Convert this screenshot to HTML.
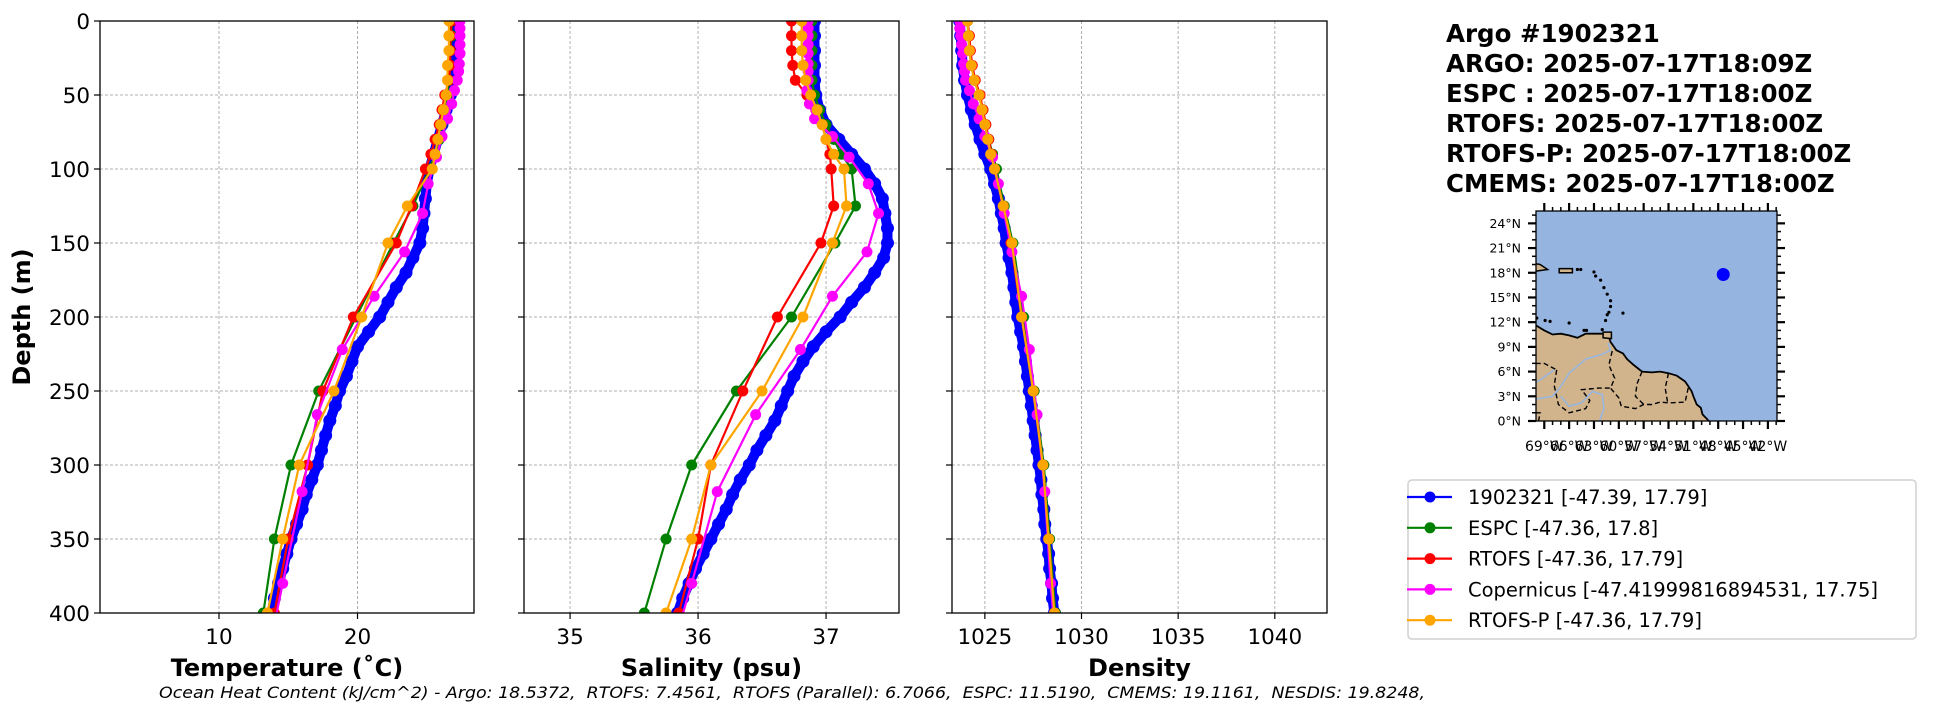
<!DOCTYPE html>
<html><head><meta charset="utf-8">
<style>
html,body{margin:0;padding:0;background:#fff;}
svg{display:block;font-family:"DejaVu Sans","Liberation Sans",sans-serif;}
</style></head>
<body>
<svg id="fig" width="1949" height="712" viewBox="0 0 1949 712" xmlns="http://www.w3.org/2000/svg">
<defs>
<clipPath id="clipT"><rect x="100" y="21" width="374" height="592"/></clipPath>
<clipPath id="clipS"><rect x="524" y="21" width="375" height="592"/></clipPath>
<clipPath id="clipD"><rect x="952" y="21" width="375" height="592"/></clipPath>
<clipPath id="clipM"><rect x="1536" y="211" width="241" height="210"/></clipPath>
</defs>
<g id="panels"></g>
<g id="titleblock" font-weight="bold" font-size="24.5" fill="#000">
<text x="1446" y="42">Argo #1902321</text>
<text x="1446" y="72">ARGO: 2025-07-17T18:09Z</text>
<text x="1446" y="102">ESPC : 2025-07-17T18:00Z</text>
<text x="1446" y="132">RTOFS: 2025-07-17T18:00Z</text>
<text x="1446" y="162">RTOFS-P: 2025-07-17T18:00Z</text>
<text x="1446" y="192">CMEMS: 2025-07-17T18:00Z</text>
</g>
<g id="map"></g>
<g id="legend"></g>
<text x="159" y="698" font-size="16" font-style="italic" textLength="1266" lengthAdjust="spacingAndGlyphs" style="white-space:pre" xml:space="preserve">Ocean Heat Content (kJ/cm^2) - Argo: 18.5372,  RTOFS: 7.4561,  RTOFS (Parallel): 6.7066,  ESPC: 11.5190,  CMEMS: 19.1161,  NESDIS: 19.8248,</text>
</svg>
<script>
// ---- data ----
const argoDepth = [0,10,20,30,40,50,60,70,80,90,100,110,120,130,140,150,160,170,180,190,200,210,220,230,240,250,260,270,280,290,300,310,320,330,340,350,360,370,380,390,400];
const argoTemp = [27.1,27.1,27.1,27.0,26.9,26.7,26.4,26.1,25.8,25.5,25.2,25.0,24.9,24.8,24.7,24.5,24.0,23.5,22.8,22.2,21.6,20.8,20.0,19.6,19.2,18.7,18.4,18.0,17.7,17.4,17.1,16.7,16.3,16.0,15.6,15.2,14.9,14.6,14.3,14.0,13.8];
const argoSal = [36.91,36.91,36.91,36.91,36.91,36.92,36.95,37.0,37.1,37.2,37.3,37.38,37.44,37.46,37.48,37.48,37.45,37.38,37.3,37.2,37.11,37.0,36.9,36.82,36.75,36.7,36.65,36.6,36.53,36.46,36.4,36.33,36.27,36.22,36.16,36.1,36.04,35.98,35.93,35.88,35.84];
const argoDens = [1023.7,1023.75,1023.8,1023.85,1023.95,1024.1,1024.3,1024.5,1024.75,1025.0,1025.3,1025.5,1025.7,1025.85,1026.0,1026.1,1026.25,1026.4,1026.5,1026.6,1026.7,1026.85,1027.0,1027.1,1027.2,1027.3,1027.4,1027.5,1027.6,1027.7,1027.8,1027.9,1027.95,1028.05,1028.1,1028.2,1028.3,1028.35,1028.45,1028.5,1028.6];

const modelDepth = [0,10,20,30,40,50,60,70,80,90,100,125,150,200,250,300,350,400];
const espcTemp = [26.8,26.8,26.7,26.7,26.6,26.5,26.3,26.1,25.9,25.6,25.2,24.0,22.6,19.9,17.2,15.2,14.0,13.2];
const espcSal = [36.89,36.89,36.89,36.89,36.89,36.91,36.95,37.0,37.06,37.12,37.2,37.23,37.07,36.73,36.3,35.95,35.75,35.58];
const espcDens = [1024.1,1024.15,1024.2,1024.3,1024.45,1024.7,1024.9,1025.05,1025.2,1025.4,1025.6,1026.0,1026.45,1027.0,1027.55,1028.05,1028.35,1028.65];
const rtofsTemp = [26.8,26.7,26.7,26.7,26.6,26.3,26.1,25.9,25.6,25.3,24.9,23.9,22.8,19.7,17.5,16.4,15.0,14.0];
const rtofsSal = [36.73,36.73,36.73,36.74,36.76,36.85,36.92,36.97,37.0,37.03,37.04,37.06,36.96,36.62,36.35,36.1,36.0,35.85];
const rtofsDens = [1024.1,1024.2,1024.25,1024.35,1024.5,1024.75,1024.9,1025.05,1025.2,1025.35,1025.5,1025.95,1026.35,1026.9,1027.5,1028.0,1028.3,1028.6];
const rtofspTemp = [26.6,26.6,26.6,26.5,26.5,26.4,26.2,26.0,25.8,25.6,25.4,23.6,22.2,20.3,18.3,15.8,14.6,13.5];
const rtofspSal = [36.81,36.81,36.81,36.82,36.84,36.88,36.93,36.97,37.0,37.06,37.14,37.16,37.05,36.82,36.5,36.1,35.95,35.75];
const rtofspDens = [1024.1,1024.15,1024.2,1024.3,1024.45,1024.7,1024.85,1025.0,1025.15,1025.3,1025.5,1025.95,1026.4,1026.9,1027.5,1028.0,1028.3,1028.6];

const copDepth = [0,5,10,16,22,29,34,40,47,56,66,78,92,110,130,156,186,222,266,318,380,454];
const copTemp = [27.4,27.4,27.4,27.4,27.4,27.35,27.3,27.2,27.0,26.8,26.5,26.1,25.7,25.1,24.7,23.4,21.2,18.9,17.1,16.0,14.6,13.0];
const copSal = [36.86,36.86,36.86,36.86,36.86,36.86,36.86,36.86,36.85,36.87,36.91,37.05,37.18,37.33,37.41,37.32,37.05,36.8,36.45,36.15,35.95,35.7];
const copDens = [1023.7,1023.7,1023.75,1023.8,1023.85,1023.9,1023.95,1024.0,1024.2,1024.4,1024.7,1025.0,1025.4,1025.7,1026.0,1026.4,1026.9,1027.3,1027.7,1028.1,1028.4,1028.9];

const depthTicks = [0,50,100,150,200,250,300,350,400];
const tempTicks = [10,20];
const salTicks = [35,36,37];
const densTicks = [1025,1030,1035,1040];
const latTicks = [0,3,6,9,12,15,18,21,24];
const lonTicks = [-69,-66,-63,-60,-57,-54,-51,-48,-45,-42];
const floatLon = -47.39, floatLat = 17.79;

const legendLabels = ["1902321 [-47.39, 17.79]","ESPC [-47.36, 17.8]","RTOFS [-47.36, 17.79]","Copernicus [-47.41999816894531, 17.75]","RTOFS-P [-47.36, 17.79]"];
const legendColors = ["#0000ff","#008000","#ff0000","#ff00ff","#ffa500"];

// ---- helpers ----
const NS = "http://www.w3.org/2000/svg";
function mk(tag, attrs, parent){const e=document.createElementNS(NS,tag);for(const k in attrs)e.setAttribute(k,attrs[k]);if(parent)parent.appendChild(e);return e;}
const Y0=21, Y1=613;
function yDepth(d){return Y0+(d/400)*(Y1-Y0);}

const panels=[
 {key:"temperature",x0:100,x1:474,lo:1.41,hi:28.41,ticks:tempTicks,clip:"clipT",label:"Temperature (˚C)",
  series:[[argoDepth,argoTemp],[modelDepth,espcTemp],[modelDepth,rtofsTemp],[copDepth,copTemp],[modelDepth,rtofspTemp]],ylabels:true},
 {key:"salinity",x0:524,x1:899,lo:34.64,hi:37.57,ticks:salTicks,clip:"clipS",label:"Salinity (psu)",
  series:[[argoDepth,argoSal],[modelDepth,espcSal],[modelDepth,rtofsSal],[copDepth,copSal],[modelDepth,rtofspSal]],ylabels:false},
 {key:"density",x0:952,x1:1327,lo:1023.3,hi:1042.7,ticks:densTicks,clip:"clipD",label:"Density",
  series:[[argoDepth,argoDens],[modelDepth,espcDens],[modelDepth,rtofsDens],[copDepth,copDens],[modelDepth,rtofspDens]],ylabels:false}
];
const seriesNames=["argo","espc","rtofs","copernicus","rtofs-p"];
const root=document.getElementById("panels");
panels.forEach(p=>{
  const g=mk("g",{},root);
  
  
  const xs=v=>p.x0+(v-p.lo)/(p.hi-p.lo)*(p.x1-p.x0);
  p.ticks.forEach(t=>{const l=mk("line",{x1:xs(t),x2:xs(t),y1:Y0,y2:Y1,stroke:"#b0b0b0","stroke-width":1,"stroke-dasharray":"3,2"},g);
    
    });
  depthTicks.forEach(d=>{const l=mk("line",{x1:p.x0,x2:p.x1,y1:yDepth(d),y2:yDepth(d),stroke:"#b0b0b0","stroke-width":1,"stroke-dasharray":"3,2"},g);
    
    });
  const sg=mk("g",{"clip-path":"url(#"+p.clip+")"},g);
  p.series.forEach((s,i)=>{
    const [dep,val]=s;
    const pts=dep.map((d,j)=>xs(val[j]).toFixed(1)+","+yDepth(d).toFixed(1)).join(" ");
    const isArgo=i===0;
    const pl=mk("polyline",{points:pts,fill:"none",stroke:legendColors[i],"stroke-width":isArgo?10:2.2,"stroke-linejoin":"round"},sg);
    
    
    dep.forEach((d,j)=>{
      const c=mk("circle",{cx:xs(val[j]),cy:yDepth(d),r:isArgo?6.5:5.5,fill:legendColors[i]},sg);
      
      
    });
  });
  const fr=mk("rect",{x:p.x0,y:Y0,width:p.x1-p.x0,height:Y1-Y0,fill:"none",stroke:"#000","stroke-width":1.3},g);
  
  
  p.ticks.forEach(t=>{
    mk("line",{x1:xs(t),x2:xs(t),y1:Y1,y2:Y1+6,stroke:"#000","stroke-width":1.2},g);
    const tx=mk("text",{x:xs(t),y:644,"text-anchor":"middle","font-size":21.5},g);
    tx.textContent=t;
    
    
  });
  depthTicks.forEach(d=>{
    mk("line",{x1:p.x0-6,x2:p.x0,y1:yDepth(d),y2:yDepth(d),stroke:"#000","stroke-width":1.2},g);
    if(p.ylabels){
      const tx=mk("text",{x:p.x0-10,y:yDepth(d)+8,"text-anchor":"end","font-size":21.5},g);
      tx.textContent=d;
      
      
    }
  });
  const lab=mk("text",{x:(p.x0+p.x1)/2,y:676,"text-anchor":"middle","font-size":24,"font-weight":"bold"},g);
  lab.textContent=p.label;
  
  
});
const yl=mk("text",{x:0,y:0,"text-anchor":"middle","font-size":24,"font-weight":"bold",transform:"translate(30,317) rotate(-90)"},root);
yl.textContent="Depth (m)";



// ---- map ----
const M={x0:1536,x1:1777,y0:211,y1:421,lon0:-70,lon1:-40.9,lat0:0,lat1:25.5};
const mx=lon=>M.x0+(lon-M.lon0)/(M.lon1-M.lon0)*(M.x1-M.x0);
const my=lat=>M.y1-(lat-M.lat0)/(M.lat1-M.lat0)*(M.y1-M.y0);
const mapG=document.getElementById("map");
const ocean=mk("rect",{x:M.x0,y:M.y0,width:M.x1-M.x0,height:M.y1-M.y0,fill:"#95b4e0"},mapG);


const landG=mk("g",{"clip-path":"url(#clipM)"},mapG);
const sa=[[-71,11.8],[-70,11.6],[-69,11.0],[-68,10.5],[-67,10.6],[-66,10.4],[-65,10.1],[-64,10.6],[-62.5,10.6],[-62,10.6],[-61.2,10.2],[-61,9.6],[-60.3,8.6],[-59.5,8.2],[-59,7.5],[-58.2,6.8],[-57.2,6.0],[-56,5.9],[-55,6.0],[-54,5.8],[-53,5.5],[-52,4.8],[-51.6,4.2],[-51.2,3.6],[-51,3.0],[-50.6,2.0],[-50.1,1.6],[-49.9,0.8],[-49.3,0.2],[-48.8,-0.5],[-71,-0.5]];
const land=mk("polygon",{points:sa.map(q=>mx(q[0]).toFixed(1)+","+my(q[1]).toFixed(1)).join(" "),fill:"#d2b48c",stroke:"#000","stroke-width":1.8},landG);


const islands=[[[-71,19.3],[-69.5,19.0],[-68.6,18.4],[-70,18.2],[-71,18.2]],[[-67.2,18.5],[-65.6,18.5],[-65.6,18.0],[-67.2,18.0]],[[-61.9,10.8],[-60.9,10.8],[-60.9,10.0],[-61.9,10.1]]];
islands.forEach(isl=>{const e=mk("polygon",{points:isl.map(q=>mx(q[0]).toFixed(1)+","+my(q[1]).toFixed(1)).join(" "),fill:"#d2b48c",stroke:"#000","stroke-width":1.5},landG);
  
  });
const dots=[[-65,18.4],[-64.6,18.4],[-63,18.1],[-62.8,17.6],[-62.2,17.1],[-61.8,16.2],[-61.4,15.4],[-61.0,14.6],[-61.0,13.9],[-61.2,13.2],[-61.6,12.2],[-59.5,13.1],[-68.9,12.2],[-68.3,12.1],[-69.9,12.5],[-66,11.9],[-64.2,11],[-63.9,11.0],[-62.0,11.1],[-61.4,12.9]];
dots.forEach(q=>{const e=mk("circle",{cx:mx(q[0]),cy:my(q[1]),r:1.6,fill:"#000"},landG);
  
  });
const borders=[[[-60.8,8.5],[-61.2,6.8],[-60.5,5.2],[-61,4],[-60,2.8],[-59.7,1.8],[-58,1.5],[-57,2],[-56,2],[-55,2.3],[-54,2.2],[-52,2.3],[-51.6,4.1]],[[-57.2,6.0],[-57.8,4.5],[-58,3],[-57,2]],[[-54,5.8],[-54.4,4.0],[-54.1,2.2]],[[-67.5,6.2],[-67.8,4.3],[-67.3,2.0],[-66,1.0],[-64,1.5],[-63.5,2.5],[-64.5,3.8],[-62.5,4.0],[-61,4]],[[-71,7.0],[-69,7.0],[-67.5,6.2]],[[-71,1.0],[-69.5,1.0],[-69.8,-0.5]]];
borders.forEach(b=>{const e=mk("polyline",{points:b.map(q=>mx(q[0]).toFixed(1)+","+my(q[1]).toFixed(1)).join(" "),fill:"none",stroke:"#000","stroke-width":1.4,"stroke-dasharray":"5,3"},landG);
  
  });
const rivers=[[[-71,2.5],[-68,3.0],[-67,4.2],[-66,5.8],[-64,7.5],[-62,8.1],[-61,8.6],[-61.3,9.5]],[[-67,3.0],[-66,1.8],[-64.5,2.2],[-63.2,3.6],[-62,3.2],[-61.8,1.5],[-62.5,-0.5]],[[-71,4.2],[-69.5,5.0],[-67.8,6.2]]];
rivers.forEach(b=>{const e=mk("polyline",{points:b.map(q=>mx(q[0]).toFixed(1)+","+my(q[1]).toFixed(1)).join(" "),fill:"none",stroke:"#97b6e1","stroke-width":1.6},landG);
  
  });
const fdot=mk("circle",{cx:mx(floatLon),cy:my(floatLat),r:6.5,fill:"#0000ff"},mapG);


mk("rect",{x:M.x0,y:M.y0,width:M.x1-M.x0,height:M.y1-M.y0,fill:"none",stroke:"#000","stroke-width":1.3},mapG);
latTicks.forEach(t=>{
  const y=my(t);
  mk("line",{x1:M.x0-8,x2:M.x0,y1:y,y2:y,stroke:"#000","stroke-width":2.2},mapG);
  mk("line",{x1:M.x1,x2:M.x1+8,y1:y,y2:y,stroke:"#000","stroke-width":2.2},mapG);
  [1,2].forEach(k=>{const ym=my(t+k);if(ym>=M.y0){mk("line",{x1:M.x0-4,x2:M.x0,y1:ym,y2:ym,stroke:"#000","stroke-width":1.5},mapG);mk("line",{x1:M.x1,x2:M.x1+4,y1:ym,y2:ym,stroke:"#000","stroke-width":1.5},mapG);}});
  const tx=mk("text",{x:1521,y:y+4.5,"text-anchor":"end","font-size":12.5},mapG);
  tx.textContent=t+"°N";
  
  
});
lonTicks.forEach(t=>{
  const x=mx(t);
  mk("line",{x1:x,x2:x,y1:M.y1,y2:M.y1+8,stroke:"#000","stroke-width":2.2},mapG);
  mk("line",{x1:x,x2:x,y1:M.y0-8,y2:M.y0,stroke:"#000","stroke-width":2.2},mapG);
  [1,2].forEach(k=>{const xm=mx(t+k);if(xm<=M.x1){mk("line",{x1:xm,x2:xm,y1:M.y1,y2:M.y1+4,stroke:"#000","stroke-width":1.5},mapG);mk("line",{x1:xm,x2:xm,y1:M.y0-4,y2:M.y0,stroke:"#000","stroke-width":1.5},mapG);}});
  const tx=mk("text",{x:x,y:451,"text-anchor":"middle","font-size":14},mapG);
  tx.textContent=(-t)+"°W";
  
  
});

// ---- legend ----
const lg=document.getElementById("legend");
const box=mk("rect",{x:1408,y:480,width:508,height:159,rx:4,fill:"#fff",stroke:"#d0d0d0","stroke-width":1.5},lg);


legendLabels.forEach((lab,i)=>{
  const y=497+i*30.8;
  const eg=mk("g",{},lg);
  
  
  mk("line",{x1:1407,x2:1452,y1:y,y2:y,stroke:legendColors[i],"stroke-width":2.2},eg);
  mk("circle",{cx:1430,cy:y,r:5.5,fill:legendColors[i]},eg);
  const t=mk("text",{x:1468,y:y+7,"font-size":19.5},eg);
  t.textContent=lab;
});
</script>
</body></html>
